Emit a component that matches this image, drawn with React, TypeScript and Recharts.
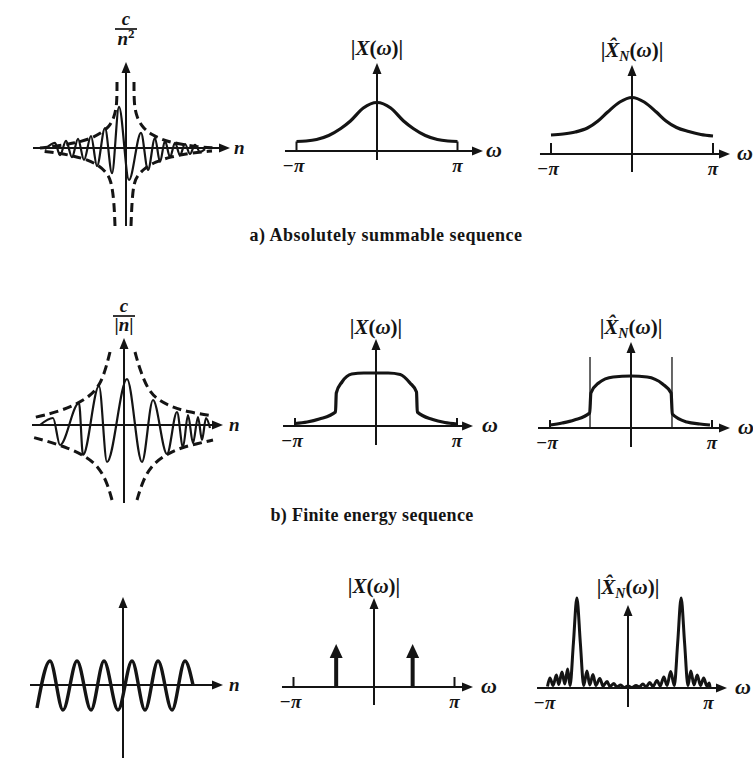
import React from 'react';
import { LineChart, Line, XAxis, YAxis, ReferenceLine, ReferenceDot } from 'recharts';

type Pair = [number, number];

const INK = '#141414';
const SERIF = '"Liberation Serif", "Times New Roman", Times, serif';

/* ---------- a) absolutely summable sequence ---------- */
// x(n), n in samples, value in units of c
const summableSeq: Pair[] = [
  [-8.1, -0.03], [-7.1, 0.13], [-6.6, -0.18], [-6.0, 0.18], [-5.4, -0.23], [-4.8, 0.23],
  [-4.2, -0.3], [-3.5, 0.3], [-2.9, -0.45], [-2.1, 0.5], [-1.4, -0.63], [-0.7, 1.03],
  [0.3, -0.8], [1.5, 0.38], [2.2, -0.55], [2.9, 0.25], [3.4, -0.35], [3.9, 0.18],
  [4.4, -0.23], [4.9, 0.13], [5.4, -0.18], [5.9, 0.1], [6.4, -0.15], [6.9, 0.08],
  [7.4, -0.1], [7.9, -0.03],
];
// c/n^2 bounds
const summableBoundUL: Pair[] = [[-0.9, 1.65], [-0.9, 1.075], [-1.2, 0.75], [-1.7, 0.525], [-2.5, 0.375], [-3.6, 0.225], [-5.1, 0.125], [-6.8, 0.05], [-8.6, 0]];
const summableBoundUR: Pair[] = [[0.8, 1.65], [0.8, 1.075], [1.1, 0.75], [1.7, 0.5], [2.6, 0.325], [3.9, 0.175], [5.4, 0.1], [7.2, 0.025], [8.9, 0]];
const summableBoundLL: Pair[] = [[-1.1, -1.95], [-1.2, -1.3], [-1.5, -0.8], [-2.0, -0.6], [-2.8, -0.425], [-3.8, -0.3], [-5.2, -0.2], [-6.8, -0.125], [-8.6, -0.075]];
const summableBoundLR: Pair[] = [[0.5, -1.95], [0.6, -1.3], [0.8, -0.85], [1.2, -0.675], [1.9, -0.5], [2.9, -0.35], [4.4, -0.225], [6.4, -0.125], [8.6, -0.075]];
// |X(ω)|, ω in units of π
const summableSpectrum: Pair[] = [
  [-1, 0.19], [-0.88, 0.2], [-0.75, 0.23], [-0.6, 0.31], [-0.45, 0.45], [-0.33, 0.6], [-0.17, 0.86],
  [0, 0.97], [0.17, 0.86], [0.33, 0.6], [0.45, 0.45], [0.6, 0.31], [0.75, 0.23], [0.88, 0.2], [1, 0.19],
];
// |X̂N(ω)|
const summableEstimate: Pair[] = [
  [-1, 0.38], [-0.85, 0.4], [-0.7, 0.44], [-0.55, 0.52], [-0.42, 0.66], [-0.3, 0.84], [-0.15, 1.04],
  [0, 1.13], [0.15, 1.04], [0.3, 0.84], [0.42, 0.66], [0.55, 0.53], [0.7, 0.45], [0.85, 0.39], [1, 0.36],
];

/* ---------- b) finite energy sequence ---------- */
const energySeq: Pair[] = [
  [-8.4, 0], [-7.1, 0.175], [-6.4, -0.5], [-4.5, 0.55], [-4.1, -0.75], [-2.5, 0.975], [-1.7, -0.925],
  [0.3, 1.15], [1.8, -0.925], [2.9, 0.625], [4.3, -0.725], [5.3, 0.325], [5.9, -0.55], [6.4, 0.25],
  [6.9, -0.45], [7.4, 0.2], [7.8, -0.375], [8.2, 0.175], [8.6, -0.075],
];
// c/|n| bounds
const energyBoundUL: Pair[] = [[-1.4, 1.825], [-1.8, 1.425], [-2.4, 1.0], [-3.4, 0.725], [-4.7, 0.525], [-6.4, 0.35], [-7.9, 0.25], [-9.2, 0.175]];
const energyBoundUR: Pair[] = [[1.1, 1.825], [1.6, 1.375], [2.4, 0.875], [3.4, 0.625], [4.8, 0.45], [6.4, 0.325], [8.9, 0.225]];
const energyBoundLL: Pair[] = [[-1.2, -1.875], [-1.7, -1.425], [-2.6, -1.025], [-3.9, -0.775], [-5.6, -0.575], [-7.4, -0.425], [-9.2, -0.3]];
const energyBoundLR: Pair[] = [[1.3, -1.875], [1.9, -1.375], [2.8, -1.0], [4.1, -0.75], [5.6, -0.575], [7.2, -0.475], [8.9, -0.375]];
const energySpectrum: Pair[] = [
  [-1, 0.05], [-0.85, 0.08], [-0.7, 0.14], [-0.5, 0.28], [-0.49, 0.66], [-0.42, 0.88], [-0.3, 1.04],
  [-0.15, 1.06], [0, 1.06], [0.15, 1.06], [0.3, 1.03], [0.42, 0.86], [0.5, 0.68], [0.51, 0.28],
  [0.7, 0.13], [0.85, 0.07], [1, 0.04],
];
const energyEstimate: Pair[] = [
  [-1, 0.06], [-0.85, 0.1], [-0.7, 0.16], [-0.51, 0.3], [-0.495, 0.7], [-0.4, 0.9], [-0.22, 1.02],
  [0, 1.04], [0.2, 1.02], [0.39, 0.88], [0.495, 0.7], [0.51, 0.28], [0.69, 0.12], [0.85, 0.08], [0.975, 0.06],
];
// band edges marked on the estimate: [ω, height]
const energyEdges: Pair[] = [[-0.506, 1.42], [0.506, 1.42]];

/* ---------- c) sinusoid ---------- */
const sineSeq: Pair[] = [
  [-8.6, -0.96], [-7.3, 1], [-6.0, -1.04], [-4.6, 1], [-3.2, -1.04], [-1.9, 1], [-0.5, -1.04],
  [0.9, 1], [2.2, -1.04], [3.5, 1], [4.9, -1.04], [6.2, 1], [7.0, 0],
];
// spectral lines: [ω, height]
const sineLines: Pair[] = [[-0.47, 0.86], [0.48, 0.86]];
const sineEstimate: Pair[] = [
  [-1.0, 0.03], [-0.97, 0.2], [-0.93, 0.05], [-0.89, 0.26], [-0.86, 0.07], [-0.82, 0.32], [-0.785, 0.08],
  [-0.75, 0.38], [-0.72, 0.05], [-0.678, 0.9], [-0.635, 1.8], [-0.592, 0.9], [-0.55, 0.05],
  [-0.51, 0.34], [-0.475, 0.06], [-0.435, 0.27], [-0.4, 0.05], [-0.35, 0.19], [-0.31, 0.04],
  [-0.26, 0.13], [-0.225, 0.03], [-0.175, 0.09], [-0.14, 0.02], [-0.09, 0.06], [-0.05, 0.01],
  [0, 0.04], [0.05, 0.01], [0.1, 0.05], [0.14, 0.02], [0.185, 0.08], [0.225, 0.02], [0.27, 0.11],
  [0.31, 0.03], [0.36, 0.15], [0.4, 0.04], [0.445, 0.22], [0.485, 0.05], [0.53, 0.33], [0.575, 0.05],
  [0.617, 0.9], [0.66, 1.8], [0.703, 0.9], [0.745, 0.05], [0.78, 0.34], [0.82, 0.06], [0.86, 0.26],
  [0.9, 0.05], [0.94, 0.2], [0.98, 0.04], [1.01, 0.1], [1.02, 0.0],
];

const captionA = 'a) Absolutely summable sequence';
const captionB = 'b) Finite energy sequence';

/* ---------- drawing helpers ---------- */
type Curve = { pts: Pair[]; width: number; dash?: string; kind: 'monotone' | 'basis' | 'linear' };
type Title = (cx: number, cy: number) => React.ReactNode;
type Panel = {
  id: string;
  box: [number, number, number, number];
  origin: [number, number];
  unit: [number, number];
  xAxis: Pair;
  yAxis: Pair;
  xName: string;
  nameGap?: number;
  ticks?: Pair[];
  piNames?: boolean;
  title: Title;
  curves: Curve[];
  guides?: Pair[];
  impulses?: Pair[];
};

const fracTitle = (num: string, den: React.ReactNode, cGap: number, lineGap: number, dGap: number): Title =>
  (cx, cy) => (
    <g fontFamily={SERIF} fontWeight="bold" fill={INK} textAnchor="middle">
      <text x={cx} y={cy - cGap} fontSize={19} fontStyle="italic">{num}</text>
      <line x1={cx - 11} x2={cx + 11} y1={cy - lineGap} y2={cy - lineGap} stroke={INK} strokeWidth={1.7} />
      <text x={cx} y={cy - dGap} fontSize={19}>{den}</text>
    </g>
  );

const modTitle = (hat: boolean, gap: number): Title => (cx, cy) => (
  <text x={cx} y={cy - gap} fontFamily={SERIF} fontWeight="bold" fontSize={21} fill={INK} textAnchor="middle">
    <tspan>|</tspan>
    <tspan fontStyle="italic">{hat ? 'X\u0302' : 'X'}</tspan>
    {hat ? <tspan fontStyle="italic" fontSize={14} dy={4}>N</tspan> : null}
    <tspan dy={hat ? -4 : 0}>(</tspan>
    <tspan fontStyle="italic">ω</tspan>
    <tspan>)|</tspan>
  </text>
);

const headRight = (p: any) => (
  <polygon points={`${p.cx},${p.cy} ${p.cx - 11},${p.cy - 4.5} ${p.cx - 11},${p.cy + 4.5}`} fill={INK} />
);
const headUp = (p: any) => (
  <polygon points={`${p.cx},${p.cy} ${p.cx - 4.5},${p.cy + 11} ${p.cx + 4.5},${p.cy + 11}`} fill={INK} />
);
const bigHeadUp = (p: any) => (
  <polygon points={`${p.cx},${p.cy} ${p.cx - 6.5},${p.cy + 14} ${p.cx + 6.5},${p.cy + 14}`} fill={INK} />
);

const labelAt = (txt: string, dx: number, dy: number, size: number, anchor: string) => (p: any) => (
  <text x={p.cx + dx} y={p.cy + dy} fontFamily={SERIF} fontWeight="bold" fontStyle="italic"
    fontSize={size} fill={INK} textAnchor={anchor}>{txt}</text>
);

const toRows = (pts: Pair[]) => pts.map(([x, y]) => ({ x, y }));

function PanelChart({ p }: { p: Panel }) {
  const [left, top, width, height] = p.box;
  const [ox, oy] = p.origin;
  const [kx, ky] = p.unit;
  const xDomain: [number, number] = [(left - ox) / kx, (left + width - ox) / kx];
  const yDomain: [number, number] = [(oy - top - height) / ky, (oy - top) / ky];
  const shaftX = p.xAxis[1] - 6 / kx;
  const shaftY = p.yAxis[1] - 6 / ky;
  const kids: React.ReactNode[] = [];

  (p.guides || []).forEach(([x, h], i) =>
    kids.push(
      <ReferenceLine key={`g${i}`} segment={[{ x, y: 0 }, { x, y: h }]} stroke={INK} strokeWidth={1.3} />,
    ),
  );
  p.curves.forEach((c, i) =>
    kids.push(
      <Line key={`c${i}`} data={toRows(c.pts)} dataKey="y" type={c.kind} stroke={INK} strokeWidth={c.width}
        strokeDasharray={c.dash} dot={false} activeDot={false} isAnimationActive={false} strokeLinejoin="round" />,
    ),
  );
  kids.push(
    <ReferenceLine key="ax" segment={[{ x: p.xAxis[0], y: 0 }, { x: shaftX, y: 0 }]} stroke={INK} strokeWidth={2} />,
    <ReferenceLine key="ay" segment={[{ x: 0, y: p.yAxis[0] }, { x: 0, y: shaftY }]} stroke={INK} strokeWidth={2} />,
    <ReferenceDot key="hx" x={p.xAxis[1]} y={0} r={1} shape={headRight} />,
    <ReferenceDot key="hy" x={0} y={p.yAxis[1]} r={1} shape={headUp} />,
    <ReferenceDot key="nx" x={p.xAxis[1]} y={0} r={1}
      shape={labelAt(p.xName, p.nameGap ?? 6, 6, p.xName === 'n' ? 19 : 22, 'start')} />,
    <ReferenceDot key="ty" x={0} y={p.yAxis[1]} r={1} shape={(d: any) => <g>{p.title(d.cx, d.cy)}</g>} />,
  );
  (p.ticks || []).forEach(([x, h], i) =>
    kids.push(
      <ReferenceLine key={`t${i}`} segment={[{ x, y: 0 }, { x, y: h }]} stroke={INK} strokeWidth={2} />,
    ),
  );
  if (p.piNames) {
    kids.push(
      <ReferenceDot key="pl" x={-1} y={0} r={1} shape={labelAt('\u2212\u03c0', -3, 21, 19, 'middle')} />,
      <ReferenceDot key="pr" x={1} y={0} r={1} shape={labelAt('\u03c0', 0, 21, 19, 'middle')} />,
    );
  }
  (p.impulses || []).forEach(([x, h], i) =>
    kids.push(
      <ReferenceLine key={`i${i}`} segment={[{ x, y: 0 }, { x, y: h - 8 / ky }]} stroke={INK} strokeWidth={4} />,
      <ReferenceDot key={`ih${i}`} x={x} y={h} r={1} shape={bigHeadUp} />,
    ),
  );

  return (
    <div style={{ position: 'absolute', left, top, width, height }}>
      <LineChart width={width} height={height} margin={{ top: 0, right: 0, bottom: 0, left: 0 }}>
        <XAxis type="number" dataKey="x" domain={xDomain} hide allowDataOverflow />
        <YAxis type="number" domain={yDomain} hide allowDataOverflow />
        {kids}
      </LineChart>
    </div>
  );
}

const dashed = (pts: Pair[]): Curve => ({ pts, width: 3, dash: '9 5', kind: 'basis' });

const panels: Panel[] = [
  {
    id: 'a1', box: [20, 0, 230, 235], origin: [126, 148], unit: [10, 40],
    xAxis: [-9.3, 10.4], yAxis: [-1.95, 2.15], xName: 'n', nameGap: 4,
    title: fracTitle('c', <tspan fontStyle="italic">n<tspan fontStyle="normal" fontSize={13} dy={-7}>2</tspan></tspan>, 37, 33, 17),
    curves: [
      dashed(summableBoundUL), dashed(summableBoundUR), dashed(summableBoundLL), dashed(summableBoundLR),
      { pts: summableSeq, width: 2.2, kind: 'monotone' },
    ],
  },
  {
    id: 'a2', box: [265, 25, 250, 165], origin: [377, 151], unit: [80.5, 50],
    xAxis: [-1.143, 1.317], yAxis: [-0.18, 1.76], xName: 'ω', nameGap: 3,
    ticks: [[-1, 0.19], [1, 0.19]], piNames: true, title: modTitle(false, 8),
    curves: [{ pts: summableSpectrum, width: 3.2, kind: 'monotone' }],
  },
  {
    id: 'a3', box: [520, 25, 233, 170], origin: [632, 154], unit: [81, 50],
    xAxis: [-1.136, 1.21], yAxis: [-0.36, 1.78], xName: 'ω', nameGap: 7,
    ticks: [[-1, 0.22], [1, 0.22]], piNames: true, title: modTitle(true, 8),
    curves: [{ pts: summableEstimate, width: 3.2, kind: 'monotone' }],
  },
  {
    id: 'b1', box: [20, 285, 230, 225], origin: [124, 425], unit: [10, 40],
    xAxis: [-9.2, 9.9], yAxis: [-1.95, 2.175], xName: 'n', nameGap: 6,
    title: fracTitle('c', <tspan>|<tspan fontStyle="italic">n</tspan>|</tspan>, 26, 22, 7),
    curves: [
      dashed(energyBoundUL), dashed(energyBoundUR), dashed(energyBoundLL), dashed(energyBoundLR),
      { pts: energySeq, width: 2.2, kind: 'monotone' },
    ],
  },
  {
    id: 'b2', box: [265, 295, 250, 170], origin: [376, 426], unit: [81, 50],
    xAxis: [-1.148, 1.198], yAxis: [-0.38, 1.74], xName: 'ω', nameGap: 9,
    ticks: [[-1, 0.16], [1, 0.16]], piNames: true, title: modTitle(false, 5),
    curves: [{ pts: energySpectrum, width: 3.2, kind: 'monotone' }],
  },
  {
    id: 'b3', box: [520, 295, 233, 170], origin: [631, 428], unit: [81, 50],
    xAxis: [-1.148, 1.222], yAxis: [-0.38, 1.72], xName: 'ω', nameGap: 8,
    ticks: [[-1, 0.16], [1, 0.16]], piNames: true, title: modTitle(true, 8),
    guides: energyEdges,
    curves: [{ pts: energyEstimate, width: 3.2, kind: 'monotone' }],
  },
  {
    id: 'c1', box: [20, 555, 230, 207], origin: [123, 685], unit: [10, 24],
    xAxis: [-9.3, 10.0], yAxis: [-3.04, 3.67], xName: 'n', nameGap: 6,
    title: () => null,
    curves: [{ pts: sineSeq, width: 3.4, kind: 'monotone' }],
  },
  {
    id: 'c2', box: [265, 555, 250, 170], origin: [374, 687], unit: [80.5, 50],
    xAxis: [-1.143, 1.23], yAxis: [-0.36, 1.78], xName: 'ω', nameGap: 8,
    ticks: [[-1, 0.2], [1, 0.2]], piNames: true, title: modTitle(false, 5),
    impulses: sineLines, curves: [],
  },
  {
    id: 'c3', box: [520, 555, 233, 170], origin: [628, 688], unit: [80.5, 50],
    xAxis: [-1.13, 1.23], yAxis: [-0.38, 1.66], xName: 'ω', nameGap: 8,
    piNames: true, title: modTitle(true, 11),
    curves: [{ pts: sineEstimate, width: 3, kind: 'monotone' }],
  },
];

export default function App() {
  return (
    <div style={{ position: 'absolute', left: 0, top: 0, width: 753, height: 762, background: '#fff', overflow: 'hidden' }}>
      <svg width={753} height={762} style={{ position: 'absolute', left: 0, top: 0 }}>
        <text x={386} y={241} textAnchor="middle" fontFamily={SERIF} fontWeight="bold" fontSize={18}
          letterSpacing={0.5} fill={INK}>{captionA}</text>
        <text x={372} y={521} textAnchor="middle" fontFamily={SERIF} fontWeight="bold" fontSize={18}
          letterSpacing={0.3} fill={INK}>{captionB}</text>
      </svg>
      {panels.map((p) => <PanelChart key={p.id} p={p} />)}
    </div>
  );
}
